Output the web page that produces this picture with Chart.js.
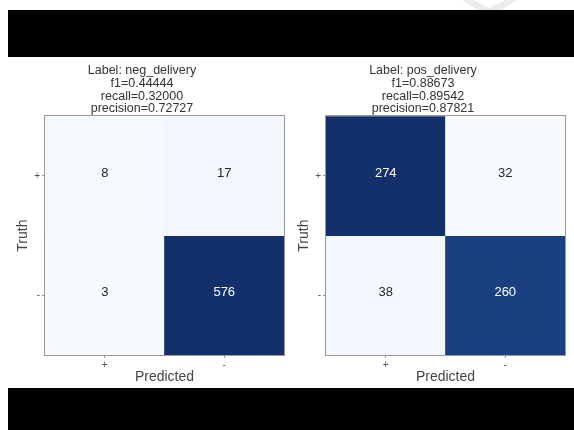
<!DOCTYPE html>
<html>
<head>
<meta charset="utf-8">
<title>Confusion matrices</title>
<script src="https://cdn.jsdelivr.net/npm/chart.js@4.4.1/dist/chart.umd.min.js"></script>
<style>
  html, body { margin: 0; padding: 0; background: #fff; }
  body { position: relative; width: 574px; height: 430px; overflow: hidden; }
  .band { position: absolute; left: 8px; width: 566px; background: #000; }
  #bandTop { top: 10px; height: 47px; }
  #bandBottom { top: 388px; height: 42px; }
  #mark {
    position: absolute; left: 462px; top: 0; width: 56px; height: 10px; background: #ececec;
    clip-path: polygon(0 0, 11px 0, 27px 8px, 43px 0, 55px 0, 39px 10px, 16px 10px);
  }
  .panel { position: absolute; top: 58px; width: 290px; height: 330px; }
  #panelNeg { left: 0; }
  #panelPos { left: 281px; }
</style>
</head>
<body>
<div id="mark"></div>
<div class="band" id="bandTop"></div>
<div class="band" id="bandBottom"></div>
<div class="panel" id="panelNeg"><canvas id="chartNeg" width="290" height="330"></canvas></div>
<div class="panel" id="panelPos"><canvas id="chartPos" width="290" height="330"></canvas></div>

<script>
"use strict";

// ── DATA ────────────────────────────────────
const truthLabels     = ["+", "-"];          // rows, top to bottom
const predictedLabels = ["+", "-"];          // columns, left to right
const negDeliveryCounts = [[8, 17], [3, 576]];
const posDeliveryCounts = [[274, 32], [38, 260]];

// ── STYLE ───────────────────────────────────
const FONT = '"Liberation Sans", Arial, Helvetica, sans-serif';
// "Blues"-like ramp, a touch muted at the dark end
const BLUES = ["#f7fbff", "#d8e6f4", "#c3d8ed", "#9ecae1", "#6baed6",
               "#4292c6", "#2a6fae", "#23529a", "#14306a"];
const FRAME = "#999999";

Chart.defaults.font.family = FONT;

function hexRgb(h) {
  return [1, 3, 5].map(i => parseInt(h.slice(i, i + 2), 16));
}

// colour lookup, t in [0, 1]
function blues(t) {
  t = Math.min(Math.max(t, 0), 1);
  const pos = t * (BLUES.length - 1);
  const i = Math.min(Math.floor(pos), BLUES.length - 2);
  const f = pos - i;
  const a = hexRgb(BLUES[i]), b = hexRgb(BLUES[i + 1]);
  const c = a.map((v, k) => Math.round(v + (b[k] - v) * f));
  return `rgb(${c[0]},${c[1]},${c[2]})`;
}

// metrics for the "+" class (row 0 / column 0)
function metrics(m) {
  const tp = m[0][0], fn = m[0][1], fp = m[1][0];
  const recall = tp / (tp + fn);
  const precision = tp / (tp + fp);
  const f1 = 2 * precision * recall / (precision + recall);
  return { f1, recall, precision };
}

/* draws the frame and the count inside every cell */
const cellText = {
  id: "cellText",
  afterDatasetsDraw(chart) {
    const { ctx, chartArea: a } = chart;
    const counts = chart.options.plugins.cellText.counts;
    const flat = counts.flat();
    const lo = Math.min(...flat), hi = Math.max(...flat);

    ctx.save();
    ctx.strokeStyle = FRAME;
    ctx.lineWidth = 1;
    ctx.strokeRect(Math.round(a.left) - 0.5, Math.round(a.top) - 0.5,
                   Math.round(a.right - a.left) + 1, Math.round(a.bottom - a.top) + 1);

    ctx.font = "13px " + FONT;
    ctx.textAlign = "center";
    ctx.textBaseline = "middle";
    chart.data.datasets.forEach((ds, di) => {
      const row = ds.row;
      chart.getDatasetMeta(di).data.forEach((el, col) => {
        const v = counts[row][col];
        const t = (v - lo) / (hi - lo);
        ctx.fillStyle = t > 0.5 ? "#ffffff" : "#262626";
        ctx.fillText(String(v), el.x, (el.y + el.base) / 2 - 2.5);
      });
    });
    ctx.restore();
  }
};

function buildChart(canvasId, name, counts) {
  const flat = counts.flat();
  const lo = Math.min(...flat), hi = Math.max(...flat);
  const nRows = truthLabels.length;
  const m = metrics(counts);

  // one floating-bar dataset per truth row; the top row sits highest
  const datasets = truthLabels.map((lab, r) => ({
    label: "Truth " + lab,
    row: r,
    data: predictedLabels.map(() => [nRows - 1 - r, nRows - r]),
    backgroundColor: counts[r].map(v => blues((v - lo) / (hi - lo))),
    borderWidth: 0,
    barPercentage: 1,
    categoryPercentage: 1,
  }));

  return new Chart(document.getElementById(canvasId), {
    type: "bar",
    data: { labels: predictedLabels, datasets },
    options: {
      responsive: false,
      animation: false,
      layout: { padding: { left: 0, right: 6, top: 0, bottom: 0 } },
      scales: {
        x: {
          type: "category",
          stacked: true,
          offset: true,
          grid: { offset: false, drawOnChartArea: false, tickLength: 3, color: FRAME },
          border: { display: false },
          ticks: { color: "#555", font: { size: 10 }, padding: 1 },
          title: { display: true, text: "Predicted", color: "#444",
                   font: { size: 14 }, padding: { top: 0, bottom: 2.2 } },
          afterFit(s) { s.height = 33; },
        },
        y: {
          type: "linear",
          min: 0, max: nRows,
          grid: { drawOnChartArea: false, tickLength: 3, color: FRAME },
          border: { display: false },
          ticks: {
            color: "#555", font: { size: 10 }, padding: 2,
            callback: v => truthLabels[nRows - 1 - Math.floor(v)],
          },
          afterBuildTicks(s) {
            s.ticks = truthLabels.map((_, r) => ({ value: nRows - 1 - r + 0.5 }));
          },
          title: { display: true, text: "Truth", color: "#444",
                   font: { size: 14 }, padding: { top: 15, bottom: 0 } },
          afterFit(s) { s.width = 45; },
        },
      },
      plugins: {
        legend: { display: false },
        tooltip: { enabled: false },
        title: {
          display: true,
          text: [
            "Label: " + name,
            "f1=" + m.f1.toFixed(5),
            "recall=" + m.recall.toFixed(5),
            "precision=" + m.precision.toFixed(5),
          ],
          color: "#333",
          font: { size: 12.5, weight: "normal", lineHeight: 1.02 },
          padding: { top: 6.2, bottom: 1 },
        },
        cellText: { counts },
      },
    },
    plugins: [cellText],
  });
}

buildChart("chartNeg", "neg_delivery", negDeliveryCounts);
buildChart("chartPos", "pos_delivery", posDeliveryCounts);
</script>
</body>
</html>
